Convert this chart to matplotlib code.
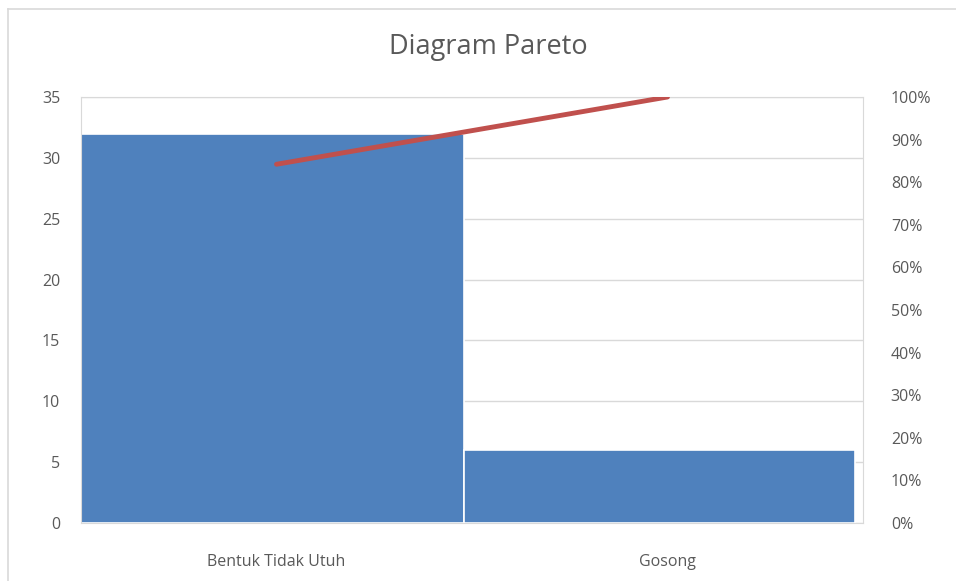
import matplotlib
matplotlib.use("Agg")
import matplotlib.pyplot as plt
from matplotlib.lines import Line2D
from matplotlib.ticker import FuncFormatter

categories = ["Bentuk Tidak Utuh", "Gosong"]
counts = [32, 6]
total = sum(counts)
cum_pct = []
s = 0
for c in counts:
    s += c
    cum_pct.append(s / total * 100)

plt.rcParams['font.family'] = ['Open Sans', 'DejaVu Sans']
txt = '#595959'
grid = '#d9d9d9'

fig = plt.figure(figsize=(9.56, 5.81), dpi=100)
ax = fig.add_axes([81/956, 1-523/581, (863-81)/956, (523-97)/581])
x = list(range(len(categories)))
bar_shift = -0.02
ax.bar([i + bar_shift for i in x], counts, width=1.0, color='#4f81bd',
       edgecolor='white', linewidth=1.2, zorder=2)
ax.set_xlim(-0.5, len(categories) - 0.5)
ax.set_ylim(0, 35)
ax.set_yticks(range(0, 36, 5))
ax.yaxis.grid(True, color=grid, linewidth=1, zorder=0)
ax.set_axisbelow(True)
ax.set_xticks(x)
ax.set_xticklabels(categories)
for sp in ax.spines.values():
    sp.set_color(grid)
ax.tick_params(axis='both', length=0, colors=txt, labelsize=11.5)
ax.tick_params(axis='x', pad=22)
ax.tick_params(axis='y', pad=15)

ax2 = ax.twinx()
ax2.plot(x, cum_pct, color='#c0504d', linewidth=3.5, solid_capstyle='round', zorder=3)
ax2.set_ylim(0, 100)
ax2.set_yticks(range(0, 101, 10))
ax2.yaxis.set_major_formatter(FuncFormatter(lambda v, p: f"{int(v)}%"))
ax2.tick_params(axis='y', length=0, colors=txt, labelsize=11.5, pad=20)
for sp in ax2.spines.values():
    sp.set_visible(False)

fig.text(488/956, 1-47/581, "Diagram Pareto", ha='center', va='center', fontsize=19.5, color=txt)

fig.add_artist(Line2D([8/956, 8/956], [0, 1-9/581], color=grid, linewidth=1.2, transform=fig.transFigure))
fig.add_artist(Line2D([8/956, 1], [1-9/581, 1-9/581], color=grid, linewidth=1.2, transform=fig.transFigure))

fig.savefig("out.png", dpi=100)
